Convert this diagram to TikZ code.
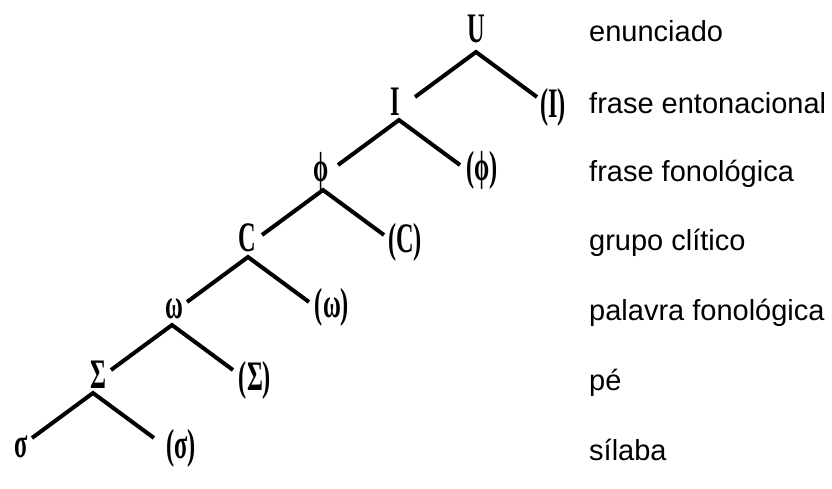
\documentclass[tikz,border=0pt]{standalone}
\usepackage{fontspec}
\setmainfont{Liberation Serif}
\newfontfamily\labfont{Liberation Sans}
\newcommand{\sq}[1]{\scalebox{0.58}[1]{\bfseries #1}}
\begin{document}
\begin{tikzpicture}[x=1pt,y=-1pt,
  sym/.style={inner sep=0pt,font=\fontsize{42}{42}\selectfont},
  lab/.style={anchor=base west,inner sep=0pt,font=\labfont\fontsize{29}{29}\selectfont},
  br/.style={line width=4pt,line join=miter}]
\useasboundingbox (0,0) rectangle (832,489);
\fill[white] (0,0) rectangle (832,489);
% tree symbols
\node[sym] (U)  at (476,29)  {\sq{U}};
\node[sym] (I)  at (395,102) {\sq{I}};
\node[sym] (pI) at (553,107) {\sq{(I)}};
\node[sym] (P)  at (321,171) {\sq{ϕ}};
\node[sym] (pP) at (482,170) {\sq{(ϕ)}};
\node[sym] (C)  at (247,238) {\sq{C}};
\node[sym] (pC) at (405,242) {\sq{(C)}};
\node[sym] (W)  at (174,309) {\sq{ω}};
\node[sym] (pW) at (332,307) {\sq{(ω)}};
\node[sym] (S)  at (98,375)  {\sq{Σ}};
\node[sym] (pS) at (255,380) {\sq{(Σ)}};
\node[sym] (s)  at (21,447)  {\sq{σ}};
\node[sym] (ps) at (181,448) {\sq{(σ)}};
% junctions (below each parent symbol)
\coordinate (jU) at (476,52);
\coordinate (jI) at (399,120);
\coordinate (jP) at (323,190);
\coordinate (jC) at (248,257);
\coordinate (jW) at (172,325);
\coordinate (jS) at (93,393);
% branches: each an inverted V from the junction toward the two children
\foreach \j in {jU,jI,jP,jC,jW,jS}
  \draw[br] (\j) +(-61,45) -- (\j) -- +(61,45);
% labels
\node[lab] (l1) at (589,42)  {enunciado};
\node[lab] (l2) at (589,114) {frase entonacional};
\node[lab] (l3) at (589,182) {frase fonológica};
\node[lab] (l4) at (589,250) {grupo clítico};
\node[lab] (l5) at (589,320) {palavra fonológica};
\node[lab] (l6) at (589,390) {pé};
\node[lab] (l7) at (589,460) {sílaba};
\end{tikzpicture}
\end{document}
